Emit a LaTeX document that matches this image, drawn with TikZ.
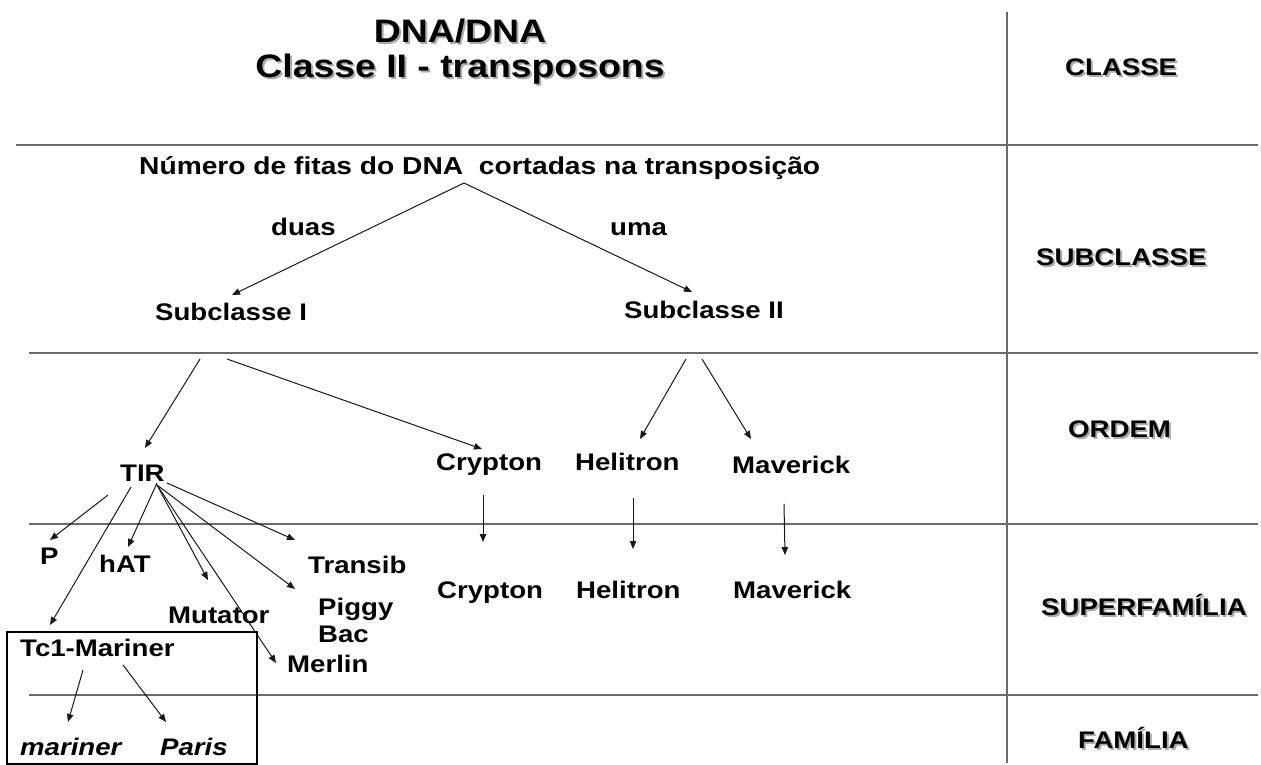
\documentclass[tikz,border=0pt]{standalone}
\usepackage{fontspec}
\usetikzlibrary{arrows.meta}
\newfontfamily\wf[FakeStretch=1.15]{Liberation Sans}
\definecolor{rule}{HTML}{6A6A6A}
\definecolor{shade}{HTML}{ABABAB}
\tikzset{
  txt/.style={inner sep=0pt, anchor=base west, font=\wf\bfseries\fontsize{24}{27}\selectfont},
  itxt/.style={txt, font=\wf\bfseries\itshape\fontsize{24}{27}\selectfont},
  ttl/.style={inner sep=0pt, anchor=base, font=\wf\bfseries\fontsize{32.5}{36}\selectfont},
  ttlsh/.style={ttl, text=shade},
  lvl/.style={txt},
  lvlsh/.style={txt, text=shade},
  rl/.style={draw=rule, line width=1.5pt},
  arr/.style={draw=black!90, line width=1pt, -{Triangle[length=8pt,width=6.5pt]}},
  frame/.style={draw=black, line width=1.1pt}
}
\begin{document}
\begin{tikzpicture}[x=1pt,y=-1pt]
\useasboundingbox (0,0) rectangle (1261,765);
\fill[white] (0,0) rectangle (1261,765);

% grid lines
\coordinate (h1a) at (16,145);  \coordinate (h1b) at (1258,145);
\coordinate (h2a) at (29,353);  \coordinate (h2b) at (1258,353);
\coordinate (h3a) at (29,524);  \coordinate (h3b) at (1258,524);
\coordinate (h4a) at (29,695);  \coordinate (h4b) at (1258,695);
\coordinate (va) at (1007,12);  \coordinate (vb) at (1007,763);
\draw[rl] (h1a) -- (h1b);
\draw[rl] (h2a) -- (h2b);
\draw[rl] (h3a) -- (h3b);
\draw[rl] (h4a) -- (h4b);
\draw[rl] (va) -- (vb);

% title
\node[ttlsh] (t1s) at (462,45) {DNA/DNA};
\node[ttl] (t1) at (460,43) {DNA/DNA};
\node[ttlsh] (t2s) at (462,80) {Classe II - transposons};
\node[ttl] (t2) at (460,78) {Classe II - transposons};

% level labels
\node[lvlsh] (cls) at (1067,78) {CLASSE};
\node[lvl] (cl) at (1065,76) {CLASSE};
\node[lvlsh] (scls) at (1038,267) {SUBCLASSE};
\node[lvl] (scl) at (1036,265) {SUBCLASSE};
\node[lvlsh] (ords) at (1070,439) {ORDEM};
\node[lvl] (ord) at (1068,437) {ORDEM};
\node[lvlsh] (sfs) at (1043,617) {SUPERFAMÍLIA};
\node[lvl] (sf) at (1041,615) {SUPERFAMÍLIA};
\node[lvlsh] (fams) at (1080,750) {FAMÍLIA};
\node[lvl] (fam) at (1078,748) {FAMÍLIA};

% subclass level
\node[txt, font=\wf\bfseries\fontsize{24.5}{28}\selectfont] (num) at (139,175) {Número de fitas do DNA\ \ cortadas na transposição};
\node[txt] (duas) at (271,235) {duas};
\node[txt] (uma) at (610,235) {uma};
\node[txt] (sc1) at (155,320) {Subclasse I};
\node[txt] (sc2) at (624,318) {Subclasse II};
\coordinate (apex) at (464,183);
\coordinate (sc1t) at (232,295);
\coordinate (sc2t) at (692,292);
\draw[arr] (apex) -- (sc1t);
\draw[arr] (apex) -- (sc2t);

% order level
\node[txt] (tir) at (120,481) {TIR};
\node[txt] (cry) at (436,470) {Crypton};
\node[txt] (hel) at (575,470) {Helitron};
\node[txt] (mav) at (732,473) {Maverick};
\coordinate (sc1a) at (200,359); \coordinate (tirt) at (145,448);
\coordinate (sc1b) at (227,359); \coordinate (cryt) at (482,449);
\coordinate (sc2a) at (686,359); \coordinate (helt) at (640,439);
\coordinate (sc2b) at (702,359); \coordinate (mavt) at (751,439);
\draw[arr] (sc1a) -- (tirt);
\draw[arr] (sc1b) -- (cryt);
\draw[arr] (sc2a) -- (helt);
\draw[arr] (sc2b) -- (mavt);

% superfamily level
\node[txt] (p) at (40,564) {P};
\node[txt] (hat) at (99,572) {hAT};
\node[txt] (transib) at (308,573) {Transib};
\node[txt] (mut) at (168,623) {Mutator};
\node[txt, anchor=north west, align=left] (piggy) at (318,598) {Piggy\\Bac};
\node[txt] (merlin) at (287,672) {Merlin};
\node[txt] (tc1) at (20,656) {Tc1-Mariner};
\node[txt] (cry2) at (437,598) {Crypton};
\node[txt] (hel2) at (576,598) {Helitron};
\node[txt] (mav2) at (733,598) {Maverick};

\coordinate (tirP) at (108,495);   \coordinate (pt) at (50,540);
\coordinate (tirT) at (131,487);   \coordinate (tc1t) at (50,625);
\coordinate (tirH) at (157,483);   \coordinate (hatt) at (128,547);
\coordinate (tirM) at (157,485);   \coordinate (mutt) at (208,580);
\coordinate (merlint) at (276,663);
\coordinate (piggyt) at (295,589);
\coordinate (tirR) at (167,483);   \coordinate (transibt) at (295,540);
\draw[arr] (tirP) -- (pt);
\draw[arr] (tirT) -- (tc1t);
\draw[arr] (tirH) -- (hatt);
\draw[arr] (tirM) -- (mutt);
\draw[arr] (tirM) -- (merlint);
\draw[arr] (tirM) -- (piggyt);
\draw[arr] (tirR) -- (transibt);

\coordinate (crya) at (483,495); \coordinate (cryb) at (483,542);
\coordinate (hela) at (633,498); \coordinate (helb) at (633,549);
\coordinate (mava) at (784,504); \coordinate (mavb) at (785,555);
\draw[arr] (crya) -- (cryb);
\draw[arr] (hela) -- (helb);
\draw[arr] (mava) -- (mavb);

% family level
\node[itxt] (mar) at (20,755) {mariner};
\node[itxt] (paris) at (160,755) {Paris};
\coordinate (tc1a) at (83,670);  \coordinate (mart) at (68,722);
\coordinate (tc1b) at (123,665); \coordinate (parist) at (166,722);
\draw[arr] (tc1a) -- (mart);
\draw[arr] (tc1b) -- (parist);

% box around Tc1-Mariner family
\coordinate (boxa) at (7,632); \coordinate (boxb) at (257,764);
\draw[frame] (boxa) rectangle (boxb);
\end{tikzpicture}
\end{document}
